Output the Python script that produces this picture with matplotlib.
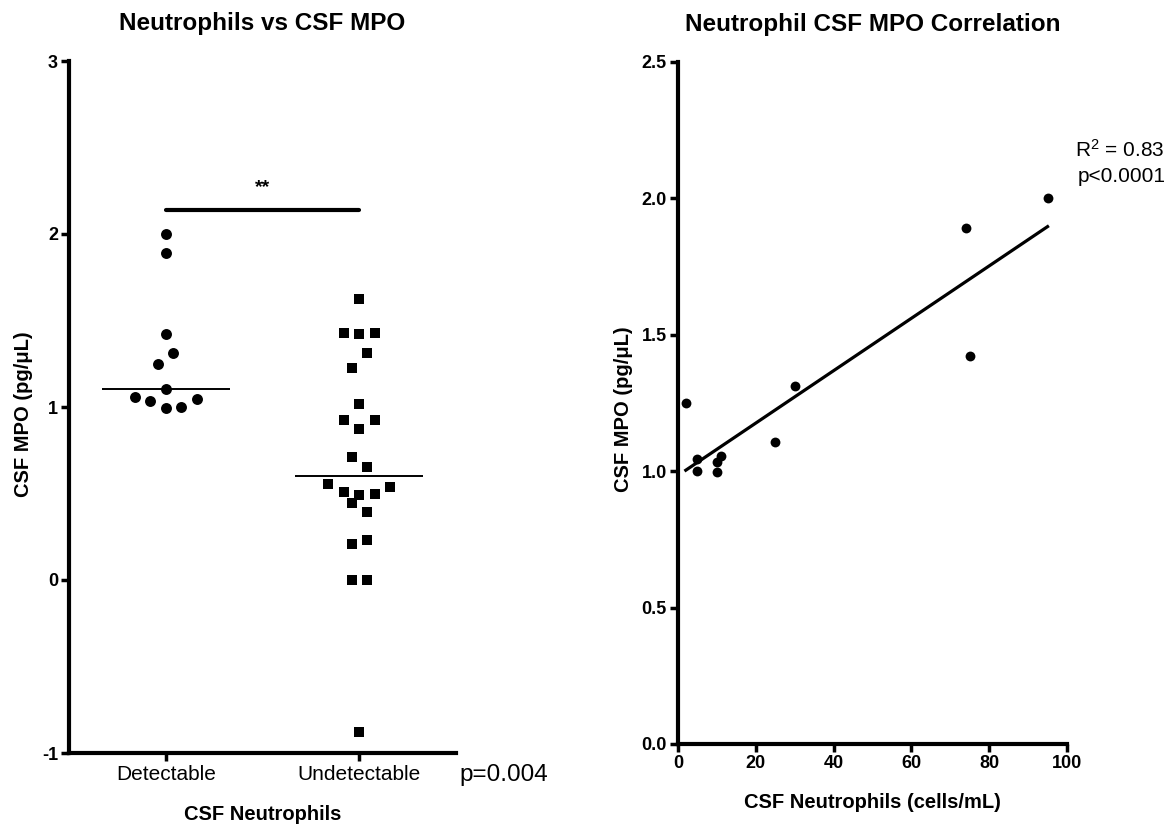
import numpy as np
import matplotlib
matplotlib.use("Agg")
import matplotlib.pyplot as plt

plt.rcParams['font.family'] = ['Liberation Sans', 'DejaVu Sans']
plt.rcParams['mathtext.fontset'] = 'custom'
plt.rcParams['mathtext.rm'] = 'Liberation Sans'
plt.rcParams['mathtext.it'] = 'Liberation Sans'

# ---------------- data ----------------
categories = ['Detectable', 'Undetectable']
# detectable group: CSF neutrophils (cells/mL) and CSF MPO (pg/uL), paired
neutrophils_detectable = [10, 5, 10, 5, 11, 25, 2, 30, 75, 74, 95]
mpo_detectable = [0.996, 1.00, 1.033, 1.046, 1.056, 1.105, 1.25, 1.31, 1.42, 1.89, 2.00]
mpo_undetectable = [-0.88, 0.0, 0.0, 0.208, 0.231, 0.443, 0.391, 0.491, 0.497,
                    0.507, 0.539, 0.555, 0.709, 0.653, 0.871, 0.927, 0.927,
                    1.017, 1.224, 1.312, 1.422, 1.430, 1.426, 1.623]
yticks_left = [-1, 0, 1, 2, 3]
yticks_right = [0.0, 0.5, 1.0, 1.5, 2.0, 2.5]
xticks_right = [0, 20, 40, 60, 80, 100]
sig_label = '**'
sig_height = 2.14
group_p_text = 'p=0.004'
corr_r2_text = r'R$^2$ = 0.83'
corr_p_text = 'p<0.0001'

W, H = 1172, 827
fig = plt.figure(figsize=(W / 100, H / 100), dpi=100)


def px_rect(x0, x1, ytop, ybot):
    return [x0 / W, 1 - ybot / H, (x1 - x0) / W, (ybot - ytop) / H]


def swarm_positions(center, values, row_height, step):
    values = np.asarray(values, float)
    order = np.argsort(values, kind='stable')
    rows, start = [], None
    for i in order:
        if start is None or values[i] - start > row_height:
            rows.append([])
            start = values[i]
        rows[-1].append(i)
    x = np.full(len(values), float(center))
    for row in rows:
        row = sorted(row)
        n = len(row)
        if n % 2:
            slots = [0] + [s for k in range(1, n // 2 + 1) for s in (k, -k)]
        else:
            slots = [s for k in range(n // 2) for s in (-(k + 0.5), k + 0.5)]
        for idx, s in zip(row, slots):
            x[idx] = center + s * step
    return x


def style_axes(ax):
    for s in ('top', 'right'):
        ax.spines[s].set_visible(False)
    for s in ('left', 'bottom'):
        ax.spines[s].set_linewidth(3)
        ax.spines[s].set_capstyle('projecting')
    ax.tick_params(width=2.5, length=6, pad=2, labelsize=13)
    for lab in ax.get_yticklabels():
        lab.set_fontweight('bold')


# ---------------- left panel ----------------
ax1 = fig.add_axes(px_rect(69, 456, 61, 753))
step = 0.0795
x_det = swarm_positions(1, mpo_detectable, 0.093, step)
x_und = swarm_positions(2, mpo_undetectable, 0.093, step)
ax1.scatter(x_det, mpo_detectable, s=62, marker='o', color='black', linewidths=0, zorder=3)
ax1.scatter(x_und, mpo_undetectable, s=62, marker='s', color='black', linewidths=0, zorder=3)
for pos, vals in ((1, mpo_detectable), (2, mpo_undetectable)):
    ax1.hlines(np.median(vals), pos - 0.33, pos + 0.33, color='black', lw=1.4, zorder=2)
ax1.plot([1, 2], [sig_height, sig_height], color='black', lw=3, solid_capstyle='round')
ax1.text(1.5, sig_height + 0.13, sig_label, ha='center', va='center',
         fontsize=14, fontweight='bold')
ax1.set_xlim(0.5, 2.5)
ax1.set_ylim(-1, 3)
ax1.set_xticks([1, 2])
ax1.set_xticklabels(categories)
ax1.set_yticks(yticks_left)
ax1.set_yticklabels([str(v) for v in yticks_left])
style_axes(ax1)
ax1.tick_params(axis='x', labelsize=15, pad=3)
ax1.set_xlabel('CSF Neutrophils', fontsize=14.5, fontweight='bold')
ax1.xaxis.set_label_coords(0.5, -0.075)
ax1.set_ylabel('CSF MPO (pg/μL)', fontsize=14.5, fontweight='bold')
ax1.yaxis.set_label_coords(-0.093, 0.49)
ax1.set_title('Neutrophils vs CSF MPO', fontsize=17.5, fontweight='bold', pad=22)
fig.text(459 / W, 1 - 781 / H, group_p_text, fontsize=17.5, ha='left', va='baseline')

# ---------------- right panel ----------------
ax2 = fig.add_axes(px_rect(678, 1067, 61.7, 744))
ax2.scatter(neutrophils_detectable, mpo_detectable, s=50, color='black', linewidths=0, zorder=3)
slope, intercept = np.polyfit(neutrophils_detectable, mpo_detectable, 1)
xfit = np.array([min(neutrophils_detectable), max(neutrophils_detectable)])
ax2.plot(xfit, slope * xfit + intercept, color='black', lw=2.3)
ax2.set_xlim(0, 100)
ax2.set_ylim(0, 2.5)
ax2.set_xticks(xticks_right)
ax2.set_xticklabels([str(v) for v in xticks_right])
ax2.set_yticks(yticks_right)
ax2.set_yticklabels([f'{v:.1f}' for v in yticks_right])
style_axes(ax2)
for lab in ax2.get_xticklabels():
    lab.set_fontweight('bold')
ax2.set_xlabel('CSF Neutrophils (cells/mL)', fontsize=14.5, fontweight='bold')
ax2.xaxis.set_label_coords(0.5, -0.072)
ax2.set_ylabel('CSF MPO (pg/μL)', fontsize=14.5, fontweight='bold')
ax2.yaxis.set_label_coords(-0.1157, 0.49)
ax2.set_title('Neutrophil CSF MPO Correlation', fontsize=17.5, fontweight='bold', pad=22)
fig.text(1075 / W, 1 - 150 / H, corr_r2_text, fontsize=15, ha='left', va='center')
fig.text(1078 / W, 1 - 177 / H, corr_p_text, fontsize=15, ha='left', va='center')

fig.savefig('out.png', dpi=100)
